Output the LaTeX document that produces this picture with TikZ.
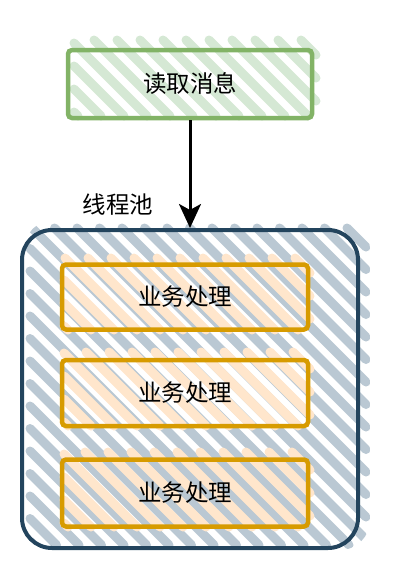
\documentclass[tikz,border=0pt]{standalone}
\usepackage{fontspec}
\setmainfont{Noto Sans CJK SC}
\usetikzlibrary{arrows.meta}
\definecolor{gfill}{HTML}{D5E8D4}\definecolor{gline}{HTML}{82B366}
\definecolor{bfill}{HTML}{BAC8D3}\definecolor{bline}{HTML}{23445D}
\definecolor{ofill}{HTML}{FFE6CC}\definecolor{oline}{HTML}{D79B00}
% hatch: x1,y1,x2,y2,color,spacing  (stripes x = y + c)
\newcommand\myhatch[6]{%
  \pgfmathsetmacro\hca{#1-(#4)+4}%
  \pgfmathsetmacro\hcb{#3-(#2)-4}%
  \pgfmathtruncatemacro\hn{(\hcb-\hca)/#6}%
  \foreach \i in {0,...,\hn} {
    \pgfmathsetmacro\hcc{\hca+\i*#6}
    \pgfmathsetmacro\hys{max(#2,#1-\hcc)}
    \pgfmathsetmacro\hye{min(#4,#3-\hcc)}
    \ifdim\hys pt<\hye pt
      \draw[line width=9pt,line cap=round,color=#5]
        ({\hys+\hcc},\hys) -- ({\hye+\hcc},\hye);
    \fi
  }}
\tikzset{
  box/.style={draw,rectangle,line width=4.5pt,rounded corners=4pt,font=\fontsize{23.5}{26}\selectfont},
  lbl/.style={font=\fontsize{23.5}{26}\selectfont}
}
\begin{document}
\begin{tikzpicture}[x=1pt,y=-1pt]
\useasboundingbox (0,0) rectangle (404,582);
% green box
\myhatch{74}{40}{316}{116}{gfill}{23}
\node[box,draw=gline,minimum width=244pt,minimum height=68pt] (read) at (190,84) {读取消息};
% pool
\begin{scope}
\clip[rounded corners=30pt] (24,220) rectangle (370,550);
\myhatch{30}{228}{366}{545}{bfill}{22.5}
\end{scope}
\node[draw=bline,line width=4pt,rounded corners=30pt,minimum width=336pt,minimum height=318pt] (pool) at (190,389) {};
\node[lbl] (plabel) at (118,205) {线程池};
% orange boxes
\myhatch{64}{258}{310}{330}{ofill}{23}
\myhatch{64}{352}{310}{426}{ofill}{23}
\myhatch{64}{452}{310}{527}{ofill}{23}
\node[box,draw=oline,minimum width=246pt,minimum height=65pt] (w1) at (185,297) {业务处理};
\node[box,draw=oline,minimum width=246pt,minimum height=66pt] (w2) at (185,393) {业务处理};
\node[box,draw=oline,minimum width=246pt,minimum height=67pt] (w3) at (185,493) {业务处理};
% arrow
\draw[-{Stealth[length=24pt,width=22pt,inset=6pt]},line width=3pt] (read.south) -- (read.south |- pool.north);
\end{tikzpicture}
\end{document}
